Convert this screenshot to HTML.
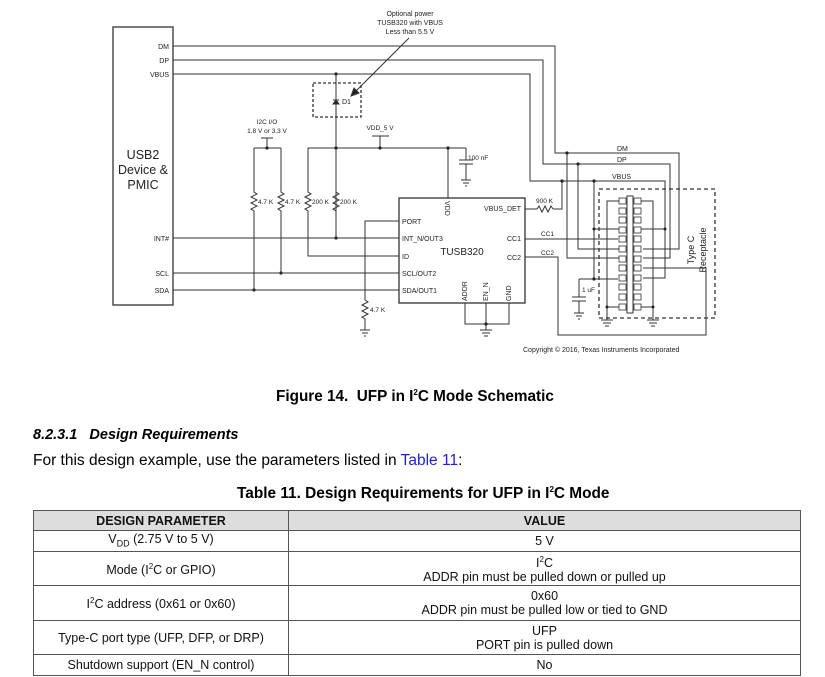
<!DOCTYPE html>
<html><head><meta charset="utf-8"><style>
body{margin:0;width:825px;height:677px;background:#fff;overflow:hidden;font-family:"Liberation Sans",sans-serif;position:relative}
.a{position:absolute;white-space:nowrap}
table{position:absolute;left:33px;top:510px;width:768px;border-collapse:collapse;font-size:12.5px;color:#111}
td{border:1.5px solid #555;text-align:center;padding:0;line-height:14px}
th{border:1.5px solid #555;background:#ddd;font-size:12.5px;height:19px;padding:0}
</style></head><body>
<svg width="825" height="380" style="position:absolute;left:0;top:0" font-family="Liberation Sans, sans-serif" fill="none" stroke="#333" stroke-width="1">
<rect x="113" y="27" width="60" height="278" stroke-width="1.3"/>
<g fill="#222" stroke="none" font-size="7" text-anchor="end">
<text x="169" y="49">DM</text><text x="169" y="63">DP</text><text x="169" y="77">VBUS</text>
<text x="169" y="241">INT#</text><text x="169" y="276">SCL</text><text x="169" y="293">SDA</text>
</g>
<g fill="#222" stroke="none" font-size="12.5" text-anchor="middle">
<text x="143" y="159">USB2</text><text x="143" y="174">Device &amp;</text><text x="143" y="189">PMIC</text>
</g>
<path d="M173 46H555V153H679V249H643"/>
<path d="M173 60H543V164H670V258H643"/>
<path d="M173 74H530V181H665V278H643"/>
<path d="M562 181V209H553"/>
<path d="M594 181V279"/>
<path d="M579 279H618"/>
<g fill="#222" stroke="none" font-size="7"><text x="617" y="151">DM</text><text x="617" y="162">DP</text><text x="612" y="179">VBUS</text></g>
<g fill="#222" stroke="none"><circle cx="336" cy="74" r="1.6"/><circle cx="567" cy="153" r="1.6"/><circle cx="578" cy="164" r="1.6"/><circle cx="562" cy="181" r="1.6"/><circle cx="594" cy="181" r="1.6"/><circle cx="594" cy="279" r="1.6"/></g>
<g fill="#222" stroke="none" font-size="7" text-anchor="middle"><text x="410" y="16">Optional power</text><text x="410" y="25">TUSB320 with VBUS</text><text x="410" y="34">Less than 5.5 V</text></g>
<path d="M409 38L355 92"/><path d="M351 96l3-8 5 5z" fill="#222"/>
<rect x="313" y="83" width="48" height="34" stroke-dasharray="3,2" stroke-width="1.3"/>
<path d="M336 74V238H399"/>
<path d="M333 100h6M333 104h6l-3-4z" fill="#222"/>
<text x="342" y="104" fill="#222" stroke="none" font-size="7">D1</text>
<path d="M254 148H281M267 148V138M261 138H273"/>
<g fill="#222" stroke="none" font-size="6.5" text-anchor="middle"><text x="267" y="124">I2C I/O</text><text x="267" y="133">1.8 V or 3.3 V</text><text x="380" y="130">VDD_5 V</text></g>
<path d="M308 148H466M380 148V136M372 136H389M448 148V198"/>
<path d="M466 148V160M459 160h14M459 164h14M466 164V180M461 180h10M463 183h6M465 186h2"/>
<text x="468" y="160" fill="#222" stroke="none" font-size="6.5">100 nF</text>
<g fill="#222" stroke="none"><circle cx="267" cy="148" r="1.6"/><circle cx="336" cy="148" r="1.6"/><circle cx="380" cy="148" r="1.6"/><circle cx="448" cy="148" r="1.6"/></g>
<g>
<path d="M254 148V192l3 2-6 3 6 3-6 3 6 3-6 3 3 2V290"/>
<path d="M281 148V192l3 2-6 3 6 3-6 3 6 3-6 3 3 2V273"/>
<path d="M308 148V192l3 2-6 3 6 3-6 3 6 3-6 3 3 2V256H399"/>
<path d="M336 148V192l3 2-6 3 6 3-6 3 6 3-6 3 3 2V238"/>
</g>
<g fill="#222" stroke="none" font-size="6.5"><text x="258" y="204">4.7 K</text><text x="285" y="204">4.7 K</text><text x="312" y="204">200 K</text><text x="340" y="204">200 K</text><text x="370" y="312">4.7 K</text><text x="536" y="203">900 K</text><text x="541" y="236">CC1</text><text x="541" y="255">CC2</text><text x="582" y="292">1 uF</text></g>
<g fill="#222" stroke="none"><circle cx="336" cy="238" r="1.6"/><circle cx="281" cy="273" r="1.6"/><circle cx="254" cy="290" r="1.6"/></g>
<path d="M173 238H336M173 273H399M173 290H399"/>
<path d="M399 221H365V300l3 2-6 3 6 3-6 3 6 3-6 3 3 2V330M360 330h10M362 333h6M364 336h2"/>
<rect x="399" y="198" width="126" height="105" stroke-width="1.3"/>
<g fill="#222" stroke="none" font-size="7"><text x="402" y="224">PORT</text><text x="402" y="241">INT_N/OUT3</text><text x="402" y="259">ID</text><text x="402" y="276">SCL/OUT2</text><text x="402" y="293">SDA/OUT1</text>
<text x="521" y="211" text-anchor="end">VBUS_DET</text><text x="521" y="241" text-anchor="end">CC1</text><text x="521" y="260" text-anchor="end">CC2</text>
<text x="462" y="255" font-size="10" text-anchor="middle">TUSB320</text>
<text transform="translate(445,201) rotate(90)">VDD</text>
<text transform="translate(467,301) rotate(-90)">ADDR</text>
<text transform="translate(488,301) rotate(-90)">EN_N</text>
<text transform="translate(511,301) rotate(-90)">GND</text></g>
<path d="M465 303V324H509V303M486 303V330M480 330h12M482 333h8M484 336h4"/>
<circle cx="486" cy="324" r="1.6" fill="#222" stroke="none"/>
<path d="M525 209H537l2-3 3 6 3-6 3 6 3-6 2 3"/>
<path d="M525 239H618M525 257H558V335H706V268H643"/>
<path d="M579 279V297M572 297h14M572 301h14M579 301V313M574 313h10M576 316h6M578 319h2"/>
<rect x="599" y="189" width="116" height="129" stroke-dasharray="4,3" stroke-width="1.3"/>
<rect x="627" y="196" width="6" height="117"/>
<g stroke-width="0.8">
<rect x="619" y="198" width="7" height="6"/><rect x="619" y="208" width="7" height="6"/><rect x="619" y="217" width="7" height="6"/><rect x="619" y="227" width="7" height="6"/><rect x="619" y="236" width="7" height="6"/><rect x="619" y="246" width="7" height="6"/><rect x="619" y="256" width="7" height="6"/><rect x="619" y="265" width="7" height="6"/><rect x="619" y="275" width="7" height="6"/><rect x="619" y="284" width="7" height="6"/><rect x="619" y="294" width="7" height="6"/><rect x="619" y="304" width="7" height="6"/>
<rect x="634" y="198" width="7" height="6"/><rect x="634" y="208" width="7" height="6"/><rect x="634" y="217" width="7" height="6"/><rect x="634" y="227" width="7" height="6"/><rect x="634" y="236" width="7" height="6"/><rect x="634" y="246" width="7" height="6"/><rect x="634" y="256" width="7" height="6"/><rect x="634" y="265" width="7" height="6"/><rect x="634" y="275" width="7" height="6"/><rect x="634" y="284" width="7" height="6"/><rect x="634" y="294" width="7" height="6"/><rect x="634" y="304" width="7" height="6"/>
</g>
<path d="M619 201H607V307H619M641 201H653V307H641M607 307V320M601 320h12M603 323h8M605 326h4M653 307V320M647 320h12M649 323h8M651 326h4"/>
<path d="M594 229H619M641 229H665M578 164V249H619M567 153V258H619"/>
<g fill="#222" stroke="none"><circle cx="594" cy="229" r="1.5"/><circle cx="665" cy="229" r="1.5"/><circle cx="607" cy="307" r="1.5"/><circle cx="653" cy="307" r="1.5"/></g>
<g fill="#222" stroke="none" font-size="9" text-anchor="middle"><text transform="translate(694,250) rotate(-90)">Type C</text><text transform="translate(706,250) rotate(-90)">Receptacle</text></g>
<text x="523" y="352" fill="#222" stroke="none" font-size="7">Copyright © 2016, Texas Instruments Incorporated</text>
</svg>
<div class="a" style="left:276px;top:388px;font-size:15.3px;font-weight:bold">Figure 14.&nbsp; UFP in I<sup style="font-size:8px">2</sup>C Mode Schematic</div>
<div class="a" style="left:33px;top:427px;font-size:14.5px;font-weight:bold;font-style:italic">8.2.3.1&nbsp;&nbsp; Design Requirements</div>
<div class="a" style="left:33px;top:452px;font-size:15.5px">For this design example, use the parameters listed in <span style="color:#2222cc">Table 11</span>:</div>
<div class="a" style="left:237px;top:485px;font-size:15.4px;font-weight:bold">Table 11. Design Requirements for UFP in I<sup style="font-size:8px">2</sup>C Mode</div>
<table>
<tr><th style="width:254px">DESIGN PARAMETER</th><th>VALUE</th></tr>
<tr style="height:21px"><td>V<sub style="font-size:9px">DD</sub> (2.75 V to 5 V)</td><td>5 V</td></tr>
<tr style="height:34px"><td>Mode (I<sup style="font-size:8px">2</sup>C or GPIO)</td><td>I<sup style="font-size:8px">2</sup>C<br>ADDR pin must be pulled down or pulled up</td></tr>
<tr style="height:35px"><td>I<sup style="font-size:8px">2</sup>C address (0x61 or 0x60)</td><td>0x60<br>ADDR pin must be pulled low or tied to GND</td></tr>
<tr style="height:34px"><td>Type-C port type (UFP, DFP, or DRP)</td><td>UFP<br>PORT pin is pulled down</td></tr>
<tr style="height:21px"><td>Shutdown support (EN_N control)</td><td>No</td></tr>
</table>
</body></html>
